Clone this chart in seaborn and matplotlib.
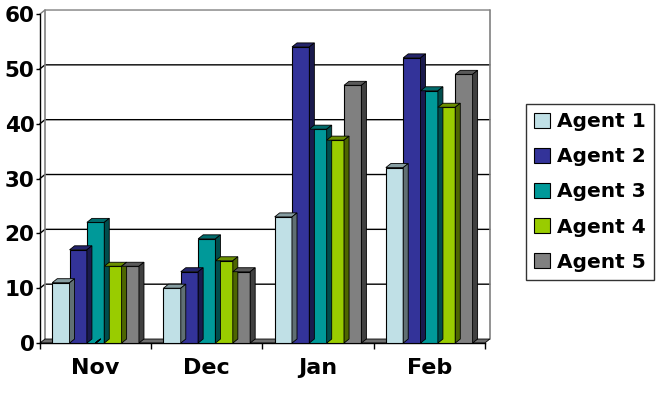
import numpy as np
import pandas as pd
import seaborn as sns
import matplotlib.pyplot as plt
from matplotlib.patches import Polygon
from matplotlib.colors import to_rgb

months = ['Nov', 'Dec', 'Jan', 'Feb']
agents = ['Agent 1', 'Agent 2', 'Agent 3', 'Agent 4', 'Agent 5']
agent1 = [11, 10, 23, 32]
agent2 = [17, 13, 54, 52]
agent3 = [22, 19, 39, 46]
agent4 = [14, 15, 37, 43]
agent5 = [14, 13, 47, 49]
colors = ['#c0e0e6', '#333399', '#009999', '#99cc00', '#808080']
yticks = [0, 10, 20, 30, 40, 50, 60]


def shade(c, f):
    r, g, b = to_rgb(c)
    return (r * f, g * f, b * f)


def main():
    rows = []
    for agent, vals in zip(agents, [agent1, agent2, agent3, agent4, agent5]):
        for m, v in zip(months, vals):
            rows.append({'month': m, 'agent': agent, 'value': v})
    df = pd.DataFrame(rows)

    sns.set_style('white')
    plt.rcParams['font.family'] = ['DejaVu Sans']
    plt.rcParams['font.weight'] = 'bold'
    plt.rcParams['text.color'] = 'black'
    plt.rcParams['xtick.color'] = 'black'
    plt.rcParams['ytick.color'] = 'black'

    fig = plt.figure(figsize=(6.61, 3.96), dpi=100)
    ax = fig.add_axes([0.0605, 0.1338, 0.673, 0.8308])

    sns.barplot(data=df, x='month', y='value', hue='agent', palette=colors, saturation=1,
                width=0.78, edgecolor='black', linewidth=0.8, ax=ax, zorder=3)
    bars = list(ax.patches)

    ax.set_xlim(-0.5, 3.5)
    ax.set_ylim(0, 60)
    dx, dy = 0.045, 0.73

    # back wall gridlines
    for v in yticks[1:]:
        col = '#808080' if v == 60 else 'black'
        ax.plot([-0.5, -0.5 + dx, 3.5 + dx], [v, v + dy, v + dy], color=col,
                lw=1, clip_on=False, zorder=0.5)
    ax.plot([-0.5 + dx, -0.5 + dx], [dy, 60 + dy], color='#808080', lw=1.2, clip_on=False, zorder=0.5)
    ax.plot([3.5 + dx, 3.5 + dx], [dy, 60 + dy], color='#808080', lw=1.2, clip_on=False, zorder=0.5)

    # floor
    ax.add_patch(Polygon([(-0.5, 0), (3.5, 0), (3.5 + dx, dy), (-0.5 + dx, dy)],
                         closed=True, facecolor='#707070', edgecolor='black', lw=0.6,
                         clip_on=False, zorder=1))

    # 3d tops and sides
    for p in bars:
        x0, w, h = p.get_x(), p.get_width(), p.get_height()
        fc = p.get_facecolor()
        ax.add_patch(Polygon([(x0, h), (x0 + w, h), (x0 + w + dx, h + dy), (x0 + dx, h + dy)],
                             closed=True, facecolor=shade(fc, 0.7), edgecolor='black', lw=0.6,
                             clip_on=False, zorder=3))
        ax.add_patch(Polygon([(x0 + w, 0), (x0 + w, h), (x0 + w + dx, h + dy), (x0 + w + dx, dy)],
                             closed=True, facecolor=shade(fc, 0.5), edgecolor='black', lw=0.6,
                             clip_on=False, zorder=3))

    for s in ['top', 'right']:
        ax.spines[s].set_visible(False)
    for s in ['left', 'bottom']:
        ax.spines[s].set_color('black')
        ax.spines[s].set_linewidth(1)

    ax.set_yticks(yticks)
    ax.set_yticklabels([str(t) for t in yticks], fontsize=15.5, fontweight='bold')
    ax.tick_params(axis='y', direction='out', length=3, width=1, pad=1, colors='black', left=True)
    ax.set_xticks(range(len(months)))
    ax.set_xticklabels(months, fontsize=16, fontweight='bold')
    ax.set_xticks(np.arange(-0.5, 4, 1), minor=True)
    ax.tick_params(axis='x', which='major', length=0, pad=11, colors='black')
    ax.tick_params(axis='x', which='minor', direction='out', length=4, width=1, bottom=True)
    ax.set_xlabel('')
    ax.set_ylabel('')

    handles, labels = ax.get_legend_handles_labels()
    leg = ax.legend(handles, labels, loc='upper left', bbox_to_anchor=(0.796, 0.737),
                    bbox_transform=fig.transFigure, frameon=True, fancybox=False,
                    edgecolor='black', prop={'weight': 'bold', 'size': 14.5},
                    handlelength=0.8, handleheight=0.8, handletextpad=0.35,
                    labelspacing=0.8, borderpad=0.4, borderaxespad=0)
    leg.get_frame().set_linewidth(1)
    for t in leg.get_texts():
        t.set_color('black')

    plt.savefig('out.png', dpi=100)
    plt.close()


if __name__ == '__main__':
    main()
